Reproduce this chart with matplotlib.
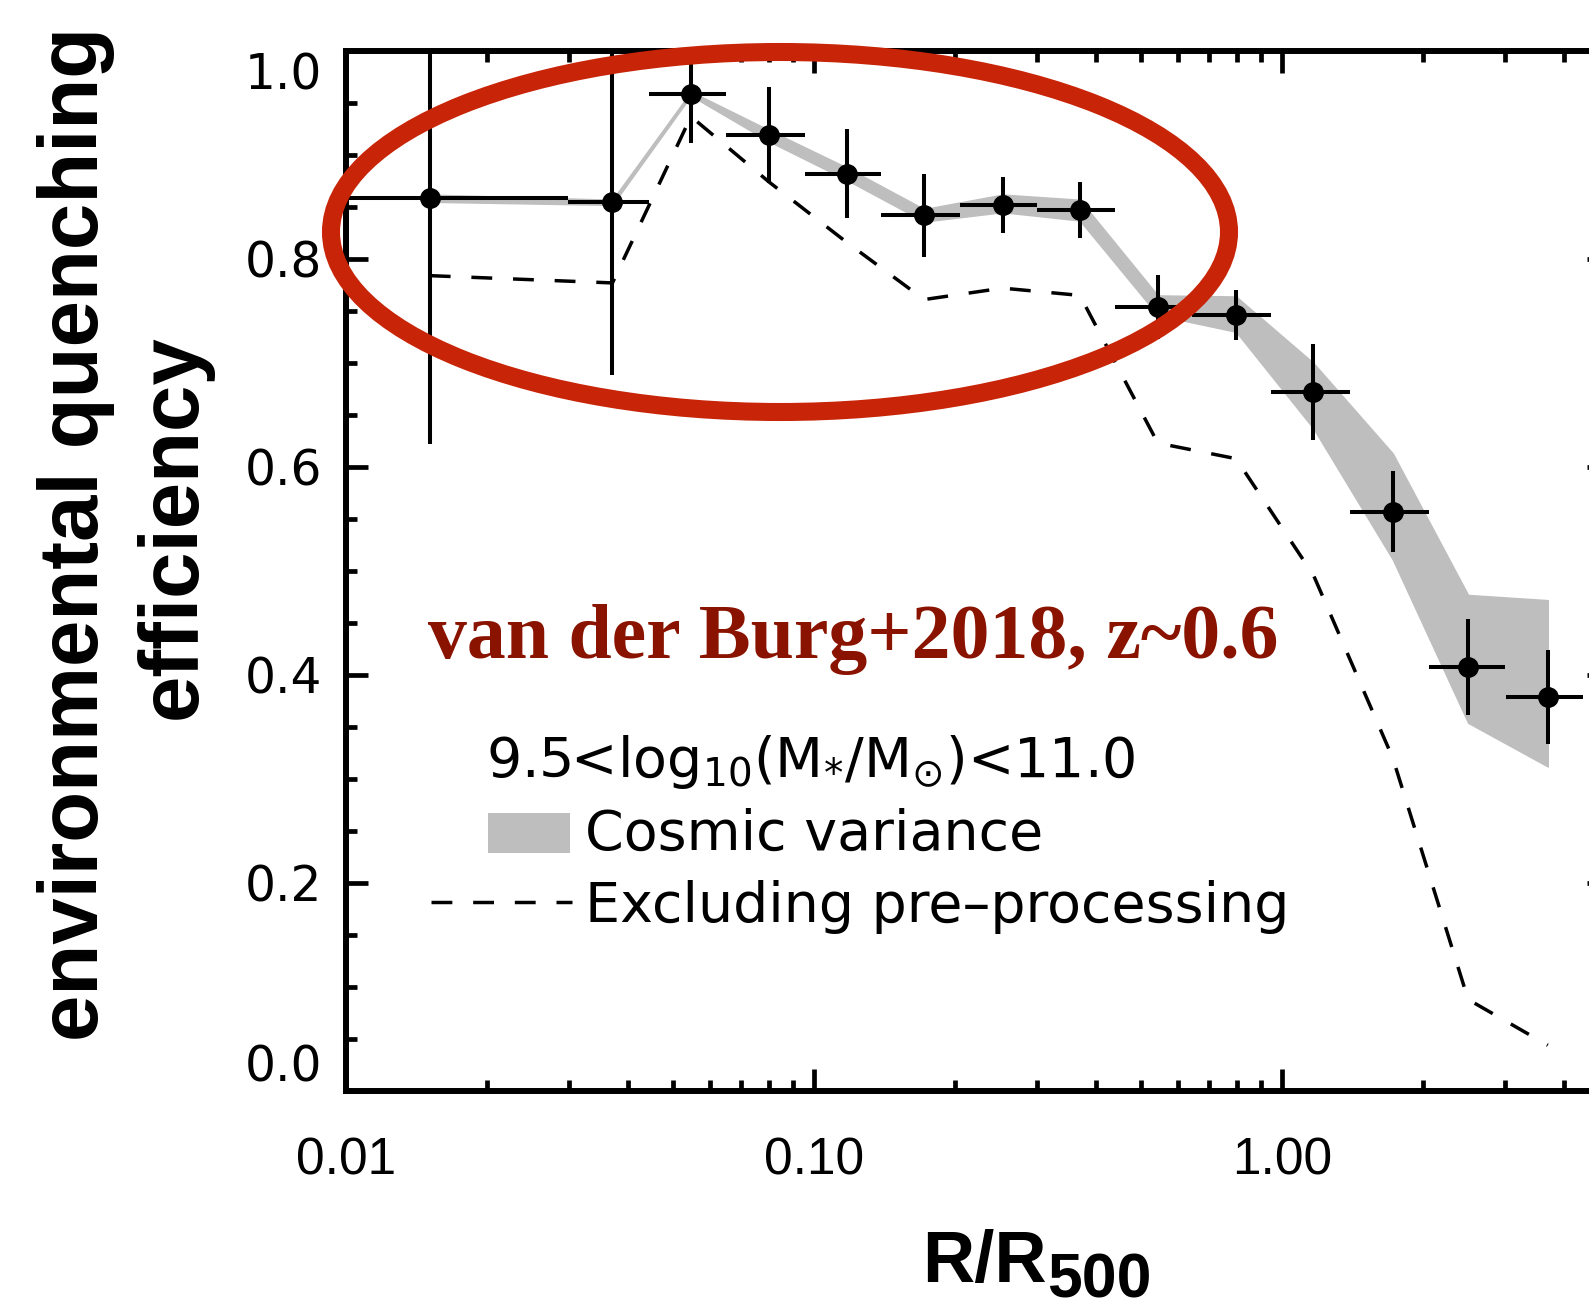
import numpy as np
import matplotlib
matplotlib.use('Agg')
import matplotlib.pyplot as plt
from matplotlib.patches import Ellipse, Rectangle
from matplotlib.lines import Line2D
from matplotlib.ticker import LogLocator, NullFormatter, MultipleLocator

# binned quenching efficiency vs. projected radius
r_mid = [0.0151, 0.0371, 0.0546, 0.0802, 0.1175, 0.172, 0.253, 0.370, 0.543, 0.798, 1.168, 1.726, 2.50, 3.70]
r_lo = [0.0075, 0.0298, 0.0444, 0.0649, 0.0957, 0.139, 0.205, 0.299, 0.440, 0.643, 0.946, 1.40, 2.06, 3.01]
r_hi = [0.0298, 0.0444, 0.0649, 0.0957, 0.139, 0.205, 0.299, 0.440, 0.643, 0.946, 1.40, 2.06, 2.99, 4.40]
qe = [0.859, 0.855, 0.959, 0.919, 0.882, 0.842, 0.852, 0.847, 0.754, 0.746, 0.672, 0.557, 0.408, 0.379]
qe_err = [0.237, 0.167, 0.047, 0.046, 0.043, 0.040, 0.027, 0.027, 0.031, 0.024, 0.046, 0.039, 0.046, 0.045]
# cosmic variance band
cv_lo = [0.855, 0.852, 0.957, 0.913, 0.876, 0.836, 0.845, 0.837, 0.746, 0.730, 0.637, 0.511, 0.354, 0.312]
cv_hi = [0.862, 0.857, 0.961, 0.924, 0.888, 0.848, 0.862, 0.857, 0.765, 0.764, 0.700, 0.613, 0.477, 0.472]
# excluding pre-processing
qe_excl = [0.784, 0.777, 0.937, 0.874, 0.816, 0.761, 0.772, 0.765, 0.623, 0.608, 0.496, 0.320, 0.088, 0.044]

xtick_vals = [0.01, 0.1, 1.0]
xtick_labels = ['0.01', '0.10', '1.00']
ytick_vals = [0.0, 0.2, 0.4, 0.6, 0.8, 1.0]
ytick_labels = ['0.0', '0.2', '0.4', '0.6', '0.8', '1.0']

W, H = 1589, 1306
def fx(px):
    return px / W
def fy(py):
    return 1 - py / H

narrow = ['Liberation Sans Narrow', 'Liberation Sans', 'DejaVu Sans']
plt.rcParams['mathtext.fontset'] = 'dejavusans'

fig = plt.figure(figsize=(W / 100, H / 100), dpi=100)
ax = fig.add_axes([fx(346), fy(1091), (1609 - 346) / W, (1091 - 51) / H])

x = np.array(r_mid)
y = np.array(qe)
xerr = [x - np.array(r_lo), np.array(r_hi) - x]

ax.fill_between(x, cv_lo, cv_hi, facecolor='#bebebe', edgecolor='#bebebe', lw=1, zorder=1)
ax.plot(x, qe_excl, color='black', lw=2.5, ls=(0, (6, 6)), zorder=2)
ax.errorbar(x, y, xerr=xerr, yerr=qe_err, fmt='o', color='black', ms=14,
            elinewidth=2.9, capsize=0, zorder=3)

ax.set_xscale('log')
ax.set_xlim(0.01, 5.0)
ax.set_ylim(0.0, 1.0)
ax.set_xticks(xtick_vals, xtick_labels)
ax.xaxis.set_minor_locator(LogLocator(base=10, subs=np.arange(2, 10)))
ax.xaxis.set_minor_formatter(NullFormatter())
ax.set_yticks(ytick_vals, ytick_labels)
ax.yaxis.set_minor_locator(MultipleLocator(0.05))
ax.tick_params(which='both', direction='in', top=True, right=True, width=3.4)
ax.tick_params(which='major', length=16)
ax.tick_params(which='minor', length=8)
ax.tick_params(axis='x', pad=33)
ax.tick_params(axis='y', pad=17)
for lab in ax.get_xticklabels():
    lab.set_fontfamily(narrow)
    lab.set_fontsize(37)
for lab in ax.get_yticklabels():
    lab.set_fontfamily('DejaVu Sans')
    lab.set_fontsize(35)
ylabs = ax.get_yticklabels()
ylabs[0].set_verticalalignment('bottom')
ylabs[-1].set_verticalalignment('top')
for s in ax.spines.values():
    s.set_linewidth(4.3)

# axis titles
fig.text(fx(76), fy(534), 'environmental quenching', rotation=90, ha='center', va='center',
         fontsize=60, fontweight='bold', family='Liberation Sans')
fig.text(fx(174), fy(527), 'efficiency', rotation=90, ha='center', va='center',
         fontsize=60, fontweight='bold', family='Liberation Sans')
xl = fig.text(fx(922), fy(1282), 'R/R', ha='left', va='baseline',
              fontsize=52, fontweight='bold', family='Liberation Sans')
ax.annotate('500', xy=(1.0, 0.0), xycoords=xl, xytext=(0, 0), textcoords='offset points',
            ha='left', va='baseline', fontsize=45, fontweight='bold', family=narrow,
            annotation_clip=False)

# annotation
fig.text(fx(428), fy(658), 'van der Burg+2018, z~0.6', ha='left', va='baseline',
         fontsize=56, fontweight='bold', family='Liberation Serif', color='#8a1300')

# legend
fig.text(fx(486), fy(762), r'9.5<log$_{10}$(M$_{*}$/M$_{\odot}$)<11.0', ha='left', va='center',
         fontsize=40, family='DejaVu Sans')
fig.add_artist(Rectangle((fx(488), fy(853)), (570 - 488) / W, (853 - 813) / H,
                         transform=fig.transFigure, facecolor='#bebebe', edgecolor='none'))
fig.text(fx(585), fy(835), 'Cosmic variance', ha='left', va='center', fontsize=40, family='DejaVu Sans')
fig.add_artist(Line2D([fx(431), fx(572)], [fy(902), fy(902)], transform=fig.transFigure,
                      color='black', lw=2.5, ls=(0, (6, 6))))
fig.text(fx(585), fy(907), 'Excluding pre\u2013processing', ha='left', va='center',
         fontsize=40, family='DejaVu Sans')

# hand-drawn highlight
fig.add_artist(Ellipse((fx(780), fy(232)), 898 / W, 360 / H, transform=fig.transFigure,
                       fill=False, edgecolor='#c82408', lw=13, zorder=10))

plt.savefig('out.png', dpi=100)
